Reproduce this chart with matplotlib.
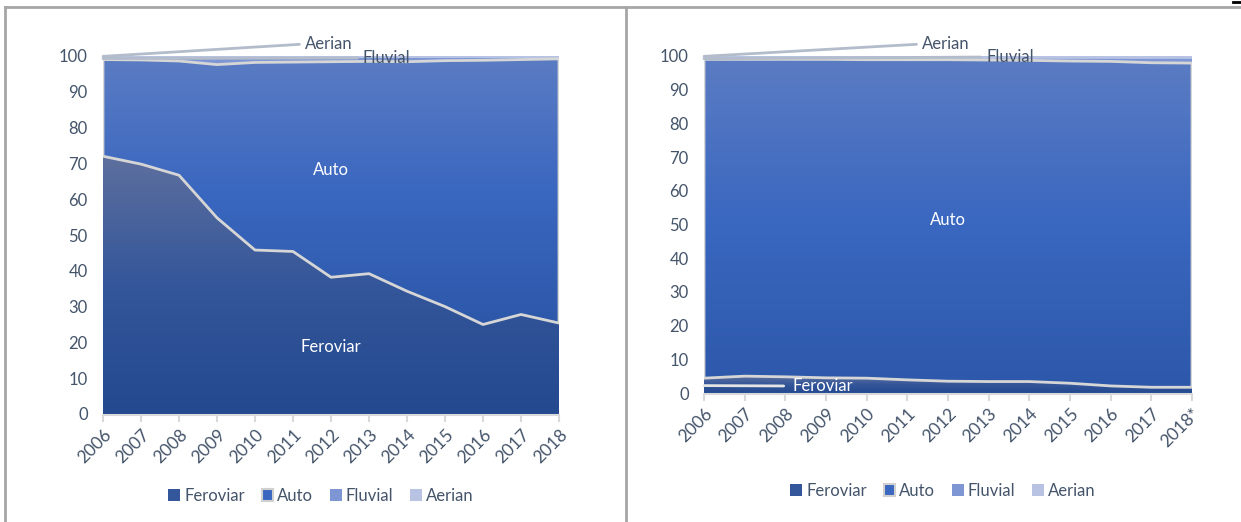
import numpy as np
import matplotlib
matplotlib.use('Agg')
import matplotlib.pyplot as plt
from matplotlib.patches import PathPatch, Rectangle
from matplotlib.colors import LinearSegmentedColormap
from matplotlib.lines import Line2D

plt.rcParams['font.family'] = ['Lato', 'DejaVu Sans']

years = list(range(2006, 2019))
labels_left = [str(y) for y in years]
labels_right = [str(y) for y in years[:-1]] + ['2018*']
series_names = ['Feroviar', 'Auto', 'Fluvial', 'Aerian']

# left chart (shares, %)
fer_left = [72.0, 69.8, 66.7, 54.8, 45.8, 45.4, 38.2, 39.2, 34.3, 30.0, 25.0, 27.8, 25.4]
auto_left = [27.0, 29.1, 31.9, 42.8, 52.4, 52.9, 60.2, 59.3, 64.1, 68.7, 73.8, 71.2, 73.8]
fluv_left = [0.6, 0.7, 1.0, 2.0, 1.4, 1.3, 1.2, 1.1, 1.2, 0.9, 0.8, 0.6, 0.4]
aer_left = [0.4, 0.4, 0.4, 0.4, 0.4, 0.4, 0.4, 0.4, 0.4, 0.4, 0.4, 0.4, 0.4]

# right chart (shares, %)
fer_right = [4.4, 5.0, 4.8, 4.5, 4.4, 3.9, 3.5, 3.4, 3.4, 2.9, 2.1, 1.7, 1.7]
auto_right = [94.6, 94.0, 94.2, 94.5, 94.5, 95.0, 95.4, 95.4, 95.3, 95.6, 96.3, 96.3, 96.2]
fluv_right = [0.3, 0.3, 0.3, 0.3, 0.4, 0.4, 0.4, 0.5, 0.6, 0.8, 0.9, 1.3, 1.4]
aer_right = [0.7, 0.7, 0.7, 0.7, 0.7, 0.7, 0.7, 0.7, 0.7, 0.7, 0.7, 0.7, 0.7]

TXT = '#44546a'
FER_COLS = ['#5d6f9e', '#34569a', '#24498f']
AUTO_COLS = ['#5b7cc3', '#3a67c0', '#2d58aa']
FLUV_COL = '#7e96d3'
AER_COL = '#b8c3e4'
FS_YTICK = 12
FS_XTICK = 12.5
FS = 12

fig = plt.figure(figsize=(12.41, 5.22), dpi=100)


def grad_fill(ax, x, y0, y1, colors, edge=None, lw=0):
    x = np.asarray(x, float)
    coll = ax.fill_between(x, y0, y1, facecolor='none', edgecolor='none')
    path = coll.get_paths()[0]
    lo, hi = float(np.min(y0)), float(np.max(y1))
    cmap = LinearSegmentedColormap.from_list('g', colors[::-1])
    grad = np.linspace(0, 1, 256).reshape(-1, 1)
    im = ax.imshow(grad, cmap=cmap, origin='lower', aspect='auto',
                   extent=[x[0], x[-1], lo, hi], zorder=1, interpolation='bilinear')
    patch = PathPatch(path, transform=ax.transData, facecolor='none', edgecolor='none')
    ax.add_patch(patch)
    im.set_clip_path(patch)
    if edge is not None:
        ax.add_patch(PathPatch(path, transform=ax.transData, facecolor='none',
                               edgecolor=edge, lw=lw, zorder=3, joinstyle='round'))


def draw_chart(rect, fer, auto, fluv, aer, xlabels):
    ax = fig.add_axes(rect)
    x = np.array(years, float)
    fer = np.array(fer); auto = np.array(auto); fluv = np.array(fluv); aer = np.array(aer)
    c1 = fer
    c2 = c1 + auto
    c3 = c2 + fluv
    c4 = c3 + aer
    grad_fill(ax, x, np.zeros_like(x), c1, FER_COLS)
    ax.fill_between(x, c2, c3, facecolor=FLUV_COL, edgecolor='none', zorder=1)
    ax.fill_between(x, c3, c4, facecolor=AER_COL, edgecolor='none', zorder=1)
    grad_fill(ax, x, c1, c2, AUTO_COLS, edge='#d6d6d6', lw=2)
    ax.set_xlim(years[0], years[-1])
    ax.set_ylim(0, 100)
    ax.set_yticks(range(0, 101, 10))
    ax.set_xticks(years)
    ax.set_xticklabels(xlabels)
    for s in ['top', 'right', 'left']:
        ax.spines[s].set_visible(False)
    ax.spines['bottom'].set_color('#d9d9d9')
    ax.spines['bottom'].set_linewidth(1.5)
    ax.spines['bottom'].set_position(('outward', 1))
    ax.tick_params(axis='y', length=0, pad=11, labelsize=FS_YTICK, labelcolor=TXT)
    ax.tick_params(axis='x', length=5, width=1.5, color='#d9d9d9', pad=3,
                   labelsize=FS_XTICK, labelcolor=TXT, labelrotation=45)
    for lab in ax.get_xticklabels():
        lab.set_ha('right')
        lab.set_rotation_mode('anchor')
    return ax


W, H = 1241.0, 522.0
axL = draw_chart([103 / W, 1 - 414 / H, (559 - 103) / W, (414 - 56) / H],
                 fer_left, auto_left, fluv_left, aer_left, labels_left)
axR = draw_chart([704 / W, 1 - 393 / H, (1192 - 704) / W, (393 - 56) / H],
                 fer_right, auto_right, fluv_right, aer_right, labels_right)

lead = dict(arrowstyle='-', color='#b3bccb', lw=2, relpos=(0, 0.5), shrinkA=2, shrinkB=0)
# left labels
axL.annotate('Aerian', xy=(2006, 99.9), xycoords='data', xytext=(305 / W, 1 - 44 / H),
             textcoords='figure fraction', ha='left', va='center', color=TXT, fontsize=FS,
             arrowprops=lead)
axL.annotate('Fluvial', xy=(2006, 99.3), xycoords='data', xytext=(363 / W, 1 - 58 / H),
             textcoords='figure fraction', ha='left', va='center', color=TXT, fontsize=FS,
             arrowprops=lead)
axL.text(2012, 68.2, 'Auto', color='white', ha='center', va='center', fontsize=FS, zorder=5)
axL.text(2012, 18.7, 'Feroviar', color='white', ha='center', va='center', fontsize=FS, zorder=5)

# right labels
axR.annotate('Aerian', xy=(2006, 99.9), xycoords='data', xytext=(922 / W, 1 - 44 / H),
             textcoords='figure fraction', ha='left', va='center', color=TXT, fontsize=FS,
             arrowprops=lead)
axR.annotate('Fluvial', xy=(2006, 99.2), xycoords='data', xytext=(986 / W, 1 - 57 / H),
             textcoords='figure fraction', ha='left', va='center', color=TXT, fontsize=FS,
             arrowprops=lead)
axR.annotate('Feroviar', xy=(2006, 2.2), xycoords='data', xytext=(792 / W, 1 - 386 / H),
             textcoords='figure fraction', ha='left', va='center', color='white', fontsize=FS,
             arrowprops=dict(arrowstyle='-', color='#e4e4e4', lw=2, relpos=(0, 0.5),
                             shrinkA=4, shrinkB=0), zorder=5)
axR.text(2012, 51.3, 'Auto', color='white', ha='center', va='center', fontsize=FS, zorder=5)


def handles():
    return [Rectangle((0, 0), 1, 1, facecolor=FER_COLS[1], edgecolor='none'),
            Rectangle((0, 0), 1, 1, facecolor=AUTO_COLS[1], edgecolor='#d0d0d0', lw=1.5),
            Rectangle((0, 0), 1, 1, facecolor=FLUV_COL, edgecolor='none'),
            Rectangle((0, 0), 1, 1, facecolor=AER_COL, edgecolor='none')]


for cx, cy in [(321 / W, 1 - 496 / H), (943 / W, 1 - 491 / H)]:
    fig.legend(handles(), series_names, loc='center', bbox_to_anchor=(cx, cy), ncol=4,
               frameon=False, fontsize=FS, labelcolor=TXT, handlelength=0.7,
               handleheight=0.7, handletextpad=0.25, columnspacing=1.0)

# outer frame lines
fc = '#a6a6a6'
fig.add_artist(Line2D([5 / W, 1.0], [1 - 7 / H, 1 - 7 / H], transform=fig.transFigure, color=fc, lw=2))
fig.add_artist(Line2D([5 / W, 5 / W], [0, 1 - 7 / H], transform=fig.transFigure, color=fc, lw=2))
fig.add_artist(Line2D([626 / W, 626 / W], [0, 1 - 7 / H], transform=fig.transFigure, color=fc, lw=2))
fig.add_artist(Line2D([1233 / W, 1241 / W], [1 - 1.5 / H, 1 - 1.5 / H], transform=fig.transFigure,
                      color='black', lw=2))

fig.savefig('out.png', dpi=100)
